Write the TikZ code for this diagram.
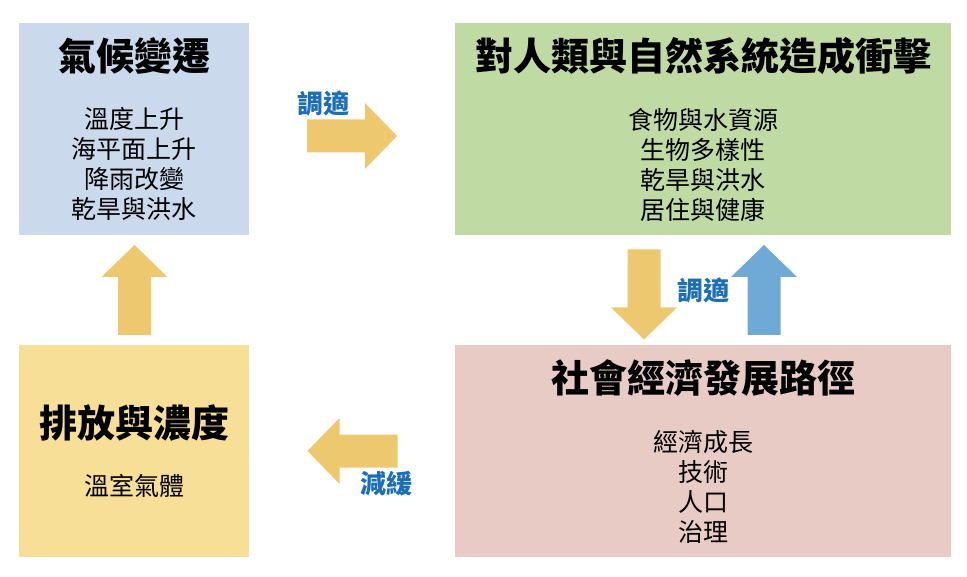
\documentclass[tikz,border=0pt]{standalone}
\usepackage{fontspec}
\setmainfont{Noto Sans CJK TC}
\usepackage{xcolor}
\usetikzlibrary{positioning}
\definecolor{climblue}{HTML}{CADAEC}
\definecolor{impgreen}{HTML}{C0DAA3}
\definecolor{emiyellow}{HTML}{F7DF98}
\definecolor{socpink}{HTML}{E8CBC5}
\definecolor{arrowyellow}{HTML}{EEC86E}
\definecolor{arrowblue}{HTML}{6FAAD6}
\definecolor{tagblue}{HTML}{1B6EB8}

\tikzset{
    pics/fatarrow/.style={code={
        \fill[#1] (-45,16.5) -- (13,16.5) -- (13,33) -- (45,0)
            -- (13,-33) -- (13,-16.5) -- (-45,-16.5) -- cycle;
    }},
    pics/fatarrow/.default=arrowyellow
}

\begin{document}
\begin{tikzpicture}[
    x=1pt, y=-1pt,
    box/.style={rectangle, minimum width=230pt, minimum height=212pt, inner sep=0pt},
    widebox/.style={box, minimum width=496pt},
    title/.style={font=\fontsize{38}{44}\selectfont\bfseries},
    items/.style={align=center, font=\fontsize{25}{30}\selectfont},
    tag/.style={font=\fontsize{26}{30}\selectfont\bfseries, text=tagblue}
]
    \useasboundingbox (0,0) rectangle (967,577);

    % the four boxes
    \node (clim) [box, fill=climblue] at (134,129) {};
    \node (imp) [widebox, fill=impgreen] at (703,129) {};
    \node (emi) [box, fill=emiyellow] at (134,451) {};
    \node (soc) [widebox, fill=socpink] at (703,451) {};

    \node (climT) [title] at ([yshift=73pt]clim.center) {氣候變遷};
    \node (climL) [items] at ([yshift=-35pt]clim.center) {溫度上升\\海平面上升\\降雨改變\\乾旱與洪水};
    \node (impT) [title] at ([yshift=73pt]imp.center) {對人類與自然系統造成衝擊};
    \node (impL) [items] at ([yshift=-36pt]imp.center) {食物與水資源\\生物多樣性\\乾旱與洪水\\居住與健康};
    \node (emiT) [title] at ([yshift=28pt]emi.center) {排放與濃度};
    \node (emiL) [items] at ([yshift=-35pt]emi.center) {溫室氣體};
    \node (socT) [title] at ([yshift=73pt]soc.center) {社會經濟發展路徑};
    \node (socL) [items] at ([yshift=-36pt]soc.center) {經濟成長\\技術\\人口\\治理};

    % block arrows
    \pic (toImp) at (352,136) {fatarrow};
    \pic (toClim) [rotate=90] at (134.5,290) {fatarrow};
    \pic (toSoc) [rotate=-90] at (644,294.5) {fatarrow};
    \pic (toImpB) [rotate=90] at (764,290) {fatarrow=arrowblue};
    \pic (toEmi) [rotate=180] at (352.5,451) {fatarrow};

    \node (adaptA) [tag] at (323,103) {調適};
    \node (adaptB) [tag] at (703,290) {調適};
    \node (mitig) [tag] at (386,484) {減緩};
\end{tikzpicture}
\end{document}
